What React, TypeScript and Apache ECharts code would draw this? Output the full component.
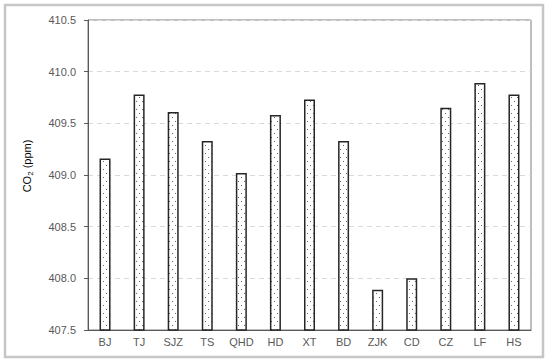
import React, { useEffect, useRef } from "react";
import * as echarts from "echarts";

const categories = ["BJ", "TJ", "SJZ", "TS", "QHD", "HD", "XT", "BD", "ZJK", "CD", "CZ", "LF", "HS"];
const co2Values = [409.16, 409.78, 409.61, 409.33, 409.02, 409.58, 409.73, 409.33, 407.89, 408.0, 409.65, 409.89, 409.78];
const yMin = 407.5;
const yMax = 410.5;
const yInterval = 0.5;

function makeDotPattern(): HTMLCanvasElement {
  const c = document.createElement("canvas");
  c.width = 6;
  c.height = 8;
  const ctx = c.getContext("2d")!;
  ctx.fillStyle = "#ffffff";
  ctx.fillRect(0, 0, 6, 8);
  ctx.fillStyle = "#666666";
  ctx.fillRect(1, 1, 1, 1);
  ctx.fillRect(4, 5, 1, 1);
  return c;
}

export default function App() {
  const ref = useRef<HTMLDivElement>(null);
  useEffect(() => {
    if (!ref.current) return;
    const chart = echarts.init(ref.current, undefined, { renderer: "svg" });
    const pattern = makeDotPattern();
    chart.setOption({
      animation: false,
      backgroundColor: "#ffffff",
      textStyle: { fontFamily: "Liberation Sans, Arial, sans-serif" },
      grid: {
        left: 88,
        right: 19,
        top: 20,
        bottom: 33,
        show: true,
        borderColor: "#7f7f7f",
        borderWidth: 1,
      },
      graphic: [
        {
          type: "rect",
          shape: { x: 5, y: 5, width: 538, height: 352 },
          style: { fill: "none", stroke: "#c6c6c6", lineWidth: 2.5 },
          silent: true,
          z: 0,
        },
        {
          type: "text",
          x: 27,
          y: 166,
          rotation: Math.PI / 2,
          style: {
            text: "{a|CO}{s|2}{a| (ppm)}",
            align: "center",
            verticalAlign: "middle",
            rich: {
              a: { fontSize: 11, fill: "#000000", fontFamily: "Liberation Sans, Arial, sans-serif" },
              s: { fontSize: 8, fill: "#000000", padding: [6, 0, 0, 0], fontFamily: "Liberation Sans, Arial, sans-serif" },
            },
          },
        },
      ],
      xAxis: {
        type: "category",
        data: categories,
        axisTick: { show: false },
        axisLine: { lineStyle: { color: "#595959", width: 1 } },
        axisLabel: { color: "#595959", fontSize: 11, margin: 6 },
      },
      yAxis: {
        type: "value",
        min: yMin,
        max: yMax,
        interval: yInterval,
        axisLine: { show: true, lineStyle: { color: "#595959", width: 1 } },
        axisTick: { show: true, length: 4, lineStyle: { color: "#595959" } },
        axisLabel: {
          color: "#595959",
          fontSize: 11,
          margin: 12,
          formatter: (v: number) => v.toFixed(1),
        },
        splitLine: { show: true, lineStyle: { color: "#d9d9d9", type: [5, 4], width: 1 } },
      },
      series: [
        {
          type: "bar",
          data: co2Values,
          barWidth: 11,
          itemStyle: {
            color: { image: pattern, repeat: "repeat" },
            borderColor: "#262626",
            borderWidth: 1.5,
          },
        },
      ],
    });
    return () => chart.dispose();
  }, []);
  return (
    <div
      ref={ref}
      style={{ position: "absolute", left: 0, top: 0, width: 550, height: 363 }}
    />
  );
}
